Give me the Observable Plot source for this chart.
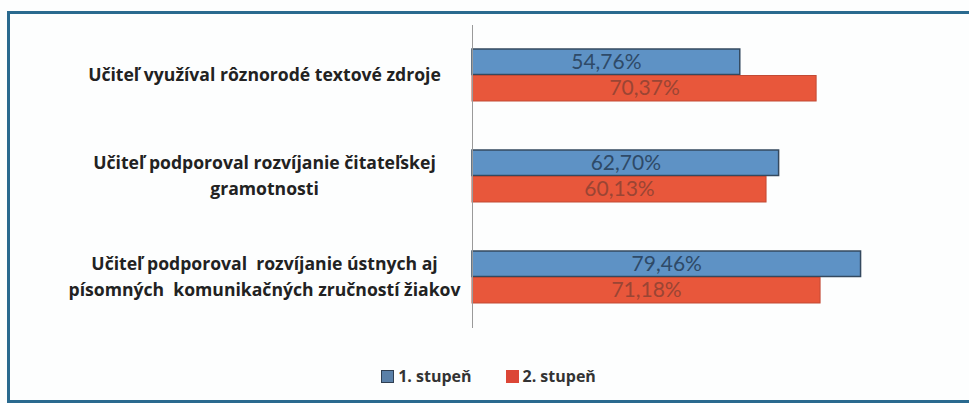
<!DOCTYPE html>
<html>
<head>
<meta charset="utf-8">
<script src="https://cdn.jsdelivr.net/npm/d3@7"></script>
<script src="https://cdn.jsdelivr.net/npm/@observablehq/plot@0.6"></script>
<style>
  body { margin: 0; background: #fff; }
  #wrap { position: relative; width: 969px; height: 403px; overflow: hidden; background: #fdfefe; }
  #frame { position: absolute; left: 7px; top: 11px; width: 990px; height: 386px; border: 3px solid #2a6a8f; border-right: none; }
  #chart { position: absolute; left: 0; top: 0; }
  #legend { position: absolute; top: 365px; left: 0; width: 969px; display: flex; justify-content: center; gap: 34px; padding-left: 8px; box-sizing: border-box;
    font-family: "Open Sans", Lato, sans-serif; font-weight: bold; font-size: 16px; color: #333; }
  .item { display: flex; align-items: center; gap: 4px; }
  .sw { width: 11px; height: 11px; display: inline-block; }
</style>
</head>
<body>
<div id="wrap">
  <div id="frame"></div>
  <div id="chart"></div>
  <div id="legend"></div>
</div>
<script>
const categories = [
  "Učiteľ využíval rôznorodé textové zdroje",
  "Učiteľ podporoval rozvíjanie čitateľskej\ngramotnosti",
  "Učiteľ podporoval  rozvíjanie ústnych aj\npísomných  komunikačných zručností žiakov"
];
const series = ["1. stupeň", "2. stupeň"];
const values1 = [54.76, 62.70, 79.46];
const values2 = [70.37, 60.13, 71.18];
const colors = ["#5e92c5", "#e8573b"];
const strokes = ["#34495f", "#c24a35"];
const labelColors = ["#2e4a68", "#9a4534"];

const d1 = categories.map((c, i) => ({category: c, value: values1[i]}));
const d2 = categories.map((c, i) => ({category: c, value: values2[i]}));
const fmt = v => v.toFixed(2).replace(".", ",") + "%";

const plot = Plot.plot({
  width: 969,
  height: 350,
  marginLeft: 472,
  marginRight: 8,
  marginTop: 25,
  marginBottom: 22,
  x: {domain: [0, 100], axis: null},
  y: {domain: categories, axis: null, paddingInner: 0.485, paddingOuter: 0.2425},
  style: {background: "transparent", overflow: "visible"},
  marks: [
    Plot.barX(d1, {x: "value", y: "category", fill: colors[0], stroke: strokes[0], strokeWidth: 1.5, insetBottom: 26.5}),
    Plot.barX(d2, {x: "value", y: "category", fill: colors[1], stroke: strokes[1], strokeWidth: 1, insetTop: 26.5}),
    Plot.text(d1, {x: d => d.value / 2, y: "category", dy: -13, text: d => fmt(d.value), fill: labelColors[0], fontSize: 21, fontFamily: "Lato, sans-serif"}),
    Plot.text(d2, {x: d => d.value / 2, y: "category", dy: 13, text: d => fmt(d.value), fill: labelColors[1], fontSize: 21, fontFamily: "Lato, sans-serif"}),
    Plot.ruleX([0], {stroke: "#9a9a9a", strokeWidth: 1}),
    Plot.text(categories, {y: d => d, text: d => d, frameAnchor: "left", textAnchor: "middle", dx: -208, dy: -3,
      lineHeight: 1.48, fontWeight: "bold", fontSize: 17.6, fill: "#222", fontFamily: "'Open Sans', sans-serif"})
  ]
});
document.getElementById("chart").appendChild(plot);

const legend = document.getElementById("legend");
series.forEach((s, i) => {
  const item = document.createElement("span");
  item.className = "item";
  const sw = document.createElement("span");
  sw.className = "sw";
  sw.style.background = i === 0 ? "#5a80a8" : "#dc4636";
  sw.style.border = i === 0 ? "1px solid #2f3f52" : "1px solid #dc4636";
  const t = document.createElement("span");
  t.textContent = s;
  item.appendChild(sw);
  item.appendChild(t);
  legend.appendChild(item);
});
</script>
</body>
</html>
